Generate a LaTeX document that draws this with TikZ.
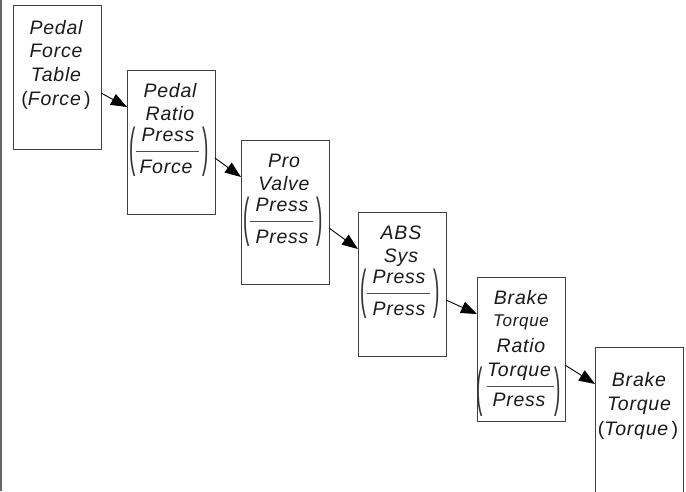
\documentclass[tikz,border=0pt]{standalone}
\usepackage{fontspec}
\usepackage{graphicx}
\setmainfont{Liberation Sans}
\newfontfamily\lblfont[LetterSpace=4]{Liberation Sans}
\usetikzlibrary{arrows.meta,calc}
\tikzset{
  boxn/.style={draw=black!75, line width=1pt, minimum width=88pt, minimum height=144pt,
    anchor=north west, inner sep=0pt, outer sep=0pt},
  lbl/.style={font=\fontsize{19.5}{23}\lblfont\itshape, anchor=base, inner sep=0pt, text=black!90},
  sml/.style={font=\fontsize{17}{20}\lblfont\itshape, anchor=base, inner sep=0pt, text=black!90},
  par/.style={font=\fontsize{19}{23}\lblfont, inner sep=0pt, anchor=center, text=black!80},
  frule/.style={draw=black!70, line width=0.8pt},
  link/.style={draw=black, line width=0.9pt, -{Triangle[length=16pt,width=12pt]}},
  frame/.style={draw=black!60, line width=1.5pt}
}
\newcommand{\lpar}{\scalebox{1}[2.8]{(}}
\newcommand{\rpar}{\scalebox{1}[2.8]{)}}
\begin{document}
\begin{tikzpicture}[x=1pt,y=-1pt]
\useasboundingbox (0,0) rectangle (686,491);
\clip (0,0) rectangle (686,491);
\draw[frame] (1,0) -- (1,491);

% boxes
\node[boxn] (b1) at (13,5) {};
\node[boxn] (b2) at (127,70) {};
\node[boxn] (b3) at (241,140) {};
\node[boxn] (b4) at (358,212) {};
\node[boxn] (b5) at (477,277) {};
\node[boxn, minimum height=160pt] (b6) at (595,347) {};

% box 1
\node[lbl] (t1a) at (56,34) {Pedal};
\node[lbl] (t1b) at (56,57.5) {Force};
\node[lbl] (t1c) at (56,81) {Table};
\node[lbl] (t1d) at (56,105) {\textup{(}Force\,\textup{)}};

% box 2
\node[lbl] (t2a) at (170,97) {Pedal};
\node[lbl] (t2b) at (170,120.5) {Ratio};
\node[lbl] (f2n) at (168,141.7) {Press};
\node[lbl] (f2d) at (166,173.3) {Force};
\draw[frule] (135.5,151) -- (198.5,151);
\node[par] (f2l) at (133,151.5) {\lpar};
\node[par] (f2r) at (206,151.5) {\rpar};

% box 3
\node[lbl] (t3a) at (284,167) {Pro};
\node[lbl] (t3b) at (284,190.5) {Valve};
\node[lbl] (f3n) at (282,211.7) {Press};
\node[lbl] (f3d) at (282,243.3) {Press};
\draw[frule] (249.5,221) -- (312.5,221);
\node[par] (f3l) at (247,221.5) {\lpar};
\node[par] (f3r) at (320,221.5) {\rpar};

% box 4
\node[lbl] (t4a) at (401,239) {ABS};
\node[lbl] (t4b) at (401,262.5) {Sys};
\node[lbl] (f4n) at (399,283.7) {Press};
\node[lbl] (f4d) at (399,315.3) {Press};
\draw[frule] (366.5,293) -- (429.5,293);
\node[par] (f4l) at (364,293.5) {\lpar};
\node[par] (f4r) at (437,293.5) {\rpar};

% box 5
\node[lbl] (t5a) at (521,304) {Brake};
\node[sml] (t5b) at (521,326.7) {Torque};
\node[lbl] (t5c) at (521,352.7) {Ratio};
\node[lbl] (f5n) at (519,376.7) {Torque};
\node[lbl] (f5d) at (519,406.7) {Press};
\draw[frule] (486.5,386) -- (553.5,386);
\node[par] (f5l) at (480,392) {\lpar};
\node[par] (f5r) at (558,392) {\rpar};

% box 6
\node[lbl] (t6a) at (639,386.7) {Brake};
\node[lbl] (t6b) at (639,410) {Torque};
\node[lbl] (t6c) at (638,435) {\textup{(}Torque\,\textup{)}};

% connectors
\draw[link] ($(b1.north east)+(0,88)$) -- ($(b2.north west)+(0,37)$);
\draw[link] ($(b2.north east)+(0,88)$) -- ($(b3.north west)+(0,37)$);
\draw[link] ($(b3.north east)+(0,88)$) -- ($(b4.north west)+(0,37)$);
\draw[link] ($(b4.north east)+(0,88)$) -- ($(b5.north west)+(0,37)$);
\draw[link] ($(b5.north east)+(0,88)$) -- ($(b6.north west)+(0,37)$);
\end{tikzpicture}
\end{document}
